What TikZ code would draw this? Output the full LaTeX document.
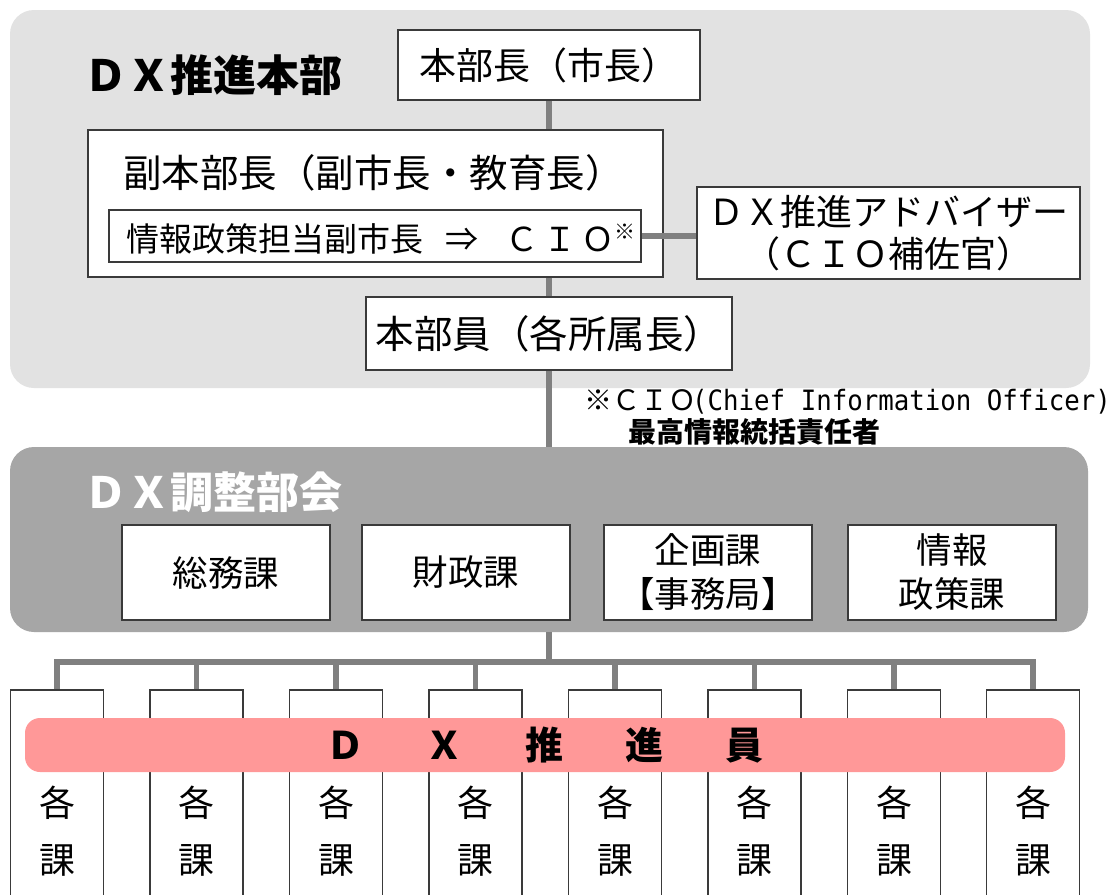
\documentclass[tikz,border=0pt]{standalone}
\usepackage{fontspec}
\setmainfont{Noto Sans CJK JP}
\newfontfamily\monofnt[FakeStretch=0.92]{DejaVu Sans Mono}
\definecolor{hqgray}{HTML}{E2E2E2}
\definecolor{cgray}{HTML}{A6A6A6}
\definecolor{linegray}{HTML}{808080}
\definecolor{pinkbar}{HTML}{FF9898}
\definecolor{boxline}{HTML}{3A3A3A}
\tikzset{
  region/.style={rounded corners=24pt, inner sep=0pt, draw=none},
  box/.style={draw=boxline, line width=1.6pt, fill=white, inner sep=0pt, align=center},
  conn/.style={draw=linegray, line width=5.5pt},
  bigtitle/.style={inner sep=0pt, anchor=west, font=\fontsize{43pt}{46pt}\selectfont\bfseries},
  jtext/.style={inner sep=0pt, align=center, font=\fontsize{37pt}{44pt}\selectfont},
  ctext/.style={inner sep=0pt, align=center, font=\fontsize{35.5pt}{44pt}\selectfont},
  katext/.style={inner sep=0pt, align=center, font=\fontsize{36pt}{57pt}\selectfont},
  note/.style={inner sep=0pt, anchor=west, font=\fontsize{28pt}{30pt}\selectfont},
}
\begin{document}
\begin{tikzpicture}[x=1pt,y=-1pt]
\clip (0,0) rectangle (1116,894);
\fill[white] (0,0) rectangle (1116,894);
% regions
\node[region, fill=hqgray, minimum width=1080pt, minimum height=378pt] (hq) at (550,199) {};
\node[region, fill=cgray, minimum width=1078pt, minimum height=185pt] (council) at (549,539.5) {};
\node[bigtitle] (hqtitle) at (84,75) {ＤＸ推進本部};
\node[bigtitle, text=white] (ctitle) at (84,492) {ＤＸ調整部会};
% headquarters boxes
\node[box, minimum width=302pt, minimum height=70pt, jtext] (chief) at (549,65) {本部長（市長）};
\node[box, minimum width=575pt, minimum height=147pt] (vice) at (375.5,203.5) {};
\node[jtext, anchor=west, font=\fontsize{38.5pt}{44pt}\selectfont] (vicetext) at (123,173) {副本部長（副市長・教育長）};
\node[box, minimum width=532pt, minimum height=52pt] (cio) at (375,236) {};
\node[inner sep=0pt, anchor=west, font=\fontsize{33pt}{36pt}\selectfont] (ciotext) at (126,239)
  {情報政策担当副市長\hspace{22pt}⇒\hspace{27pt}Ｃ\hspace{5pt}Ｉ\hspace{5pt}Ｏ\raisebox{12pt}{\fontsize{21pt}{22pt}\selectfont ※}};
\node[box, minimum width=383pt, minimum height=92pt, font=\fontsize{36pt}{42pt}\selectfont] (adv) at (888.5,233)
  {ＤＸ推進アドバイザー\\（ＣＩＯ補佐官）};
\node[box, minimum width=366pt, minimum height=73pt, jtext, font=\fontsize{38.5pt}{44pt}\selectfont] (members) at (549,333.5) {本部員（各所属長）};
% footnote
\node[note] (note1) at (584,402) {※ＣＩＯ\hspace{-4pt}{\monofnt\fontsize{28pt}{30pt}\selectfont (Chief Information Officer)}};
\node[note, font=\fontsize{28pt}{30pt}\selectfont\bfseries] (note2) at (628,432) {最高情報統括責任者};
% council boxes
\node[box, minimum width=208pt, minimum height=95pt, ctext] (c1) at (226,572.5) {総務課};
\node[box, minimum width=208pt, minimum height=95pt, ctext] (c2) at (466,572.5) {財政課};
\node[box, minimum width=208pt, minimum height=95pt, ctext] (c3) at (708,572.5) {企画課\\【事務局】};
\node[box, minimum width=208pt, minimum height=95pt, ctext] (c4) at (952,572.5) {情報\\政策課};
% connectors in headquarters
\draw[conn] (chief.south) -- (chief.south |- vice.north);
\draw[conn] (chief.south |- vice.south) -- (members.north);
\draw[conn] (members.south) -- (members.south |- council.north);
\draw[conn] (cio.east) -- (cio.east -| adv.west);
% section boxes
\foreach \i/\x in {1/57,2/196.5,3/336,4/475.5,5/615,6/754.5,7/894,8/1033}{
  \node[box, minimum width=93pt, minimum height=220pt] (k\i) at (\x,800) {};
  \node[katext] (kt\i) at (\x,831.5) {各\\課};
}
\coordinate (busmid) at (549,662);
\draw[conn] (council.south -| busmid) -- (busmid);
\draw[conn] (k1.north) -- (k1.north |- busmid) -- (k8.north |- busmid) -- (k8.north);
\foreach \i in {2,...,7}{
  \draw[conn] (k\i.north |- busmid) -- (k\i.north);
}
% DX promoters bar
\node[fill=pinkbar, rounded corners=15pt, minimum width=1040pt, minimum height=54pt, inner sep=0pt,
  font=\fontsize{38pt}{40pt}\selectfont\bfseries] (bar) at (545,745)
  {Ｄ\hspace{62pt}Ｘ\hspace{62pt}推\hspace{62pt}進\hspace{62pt}員};
\end{tikzpicture}
\end{document}
